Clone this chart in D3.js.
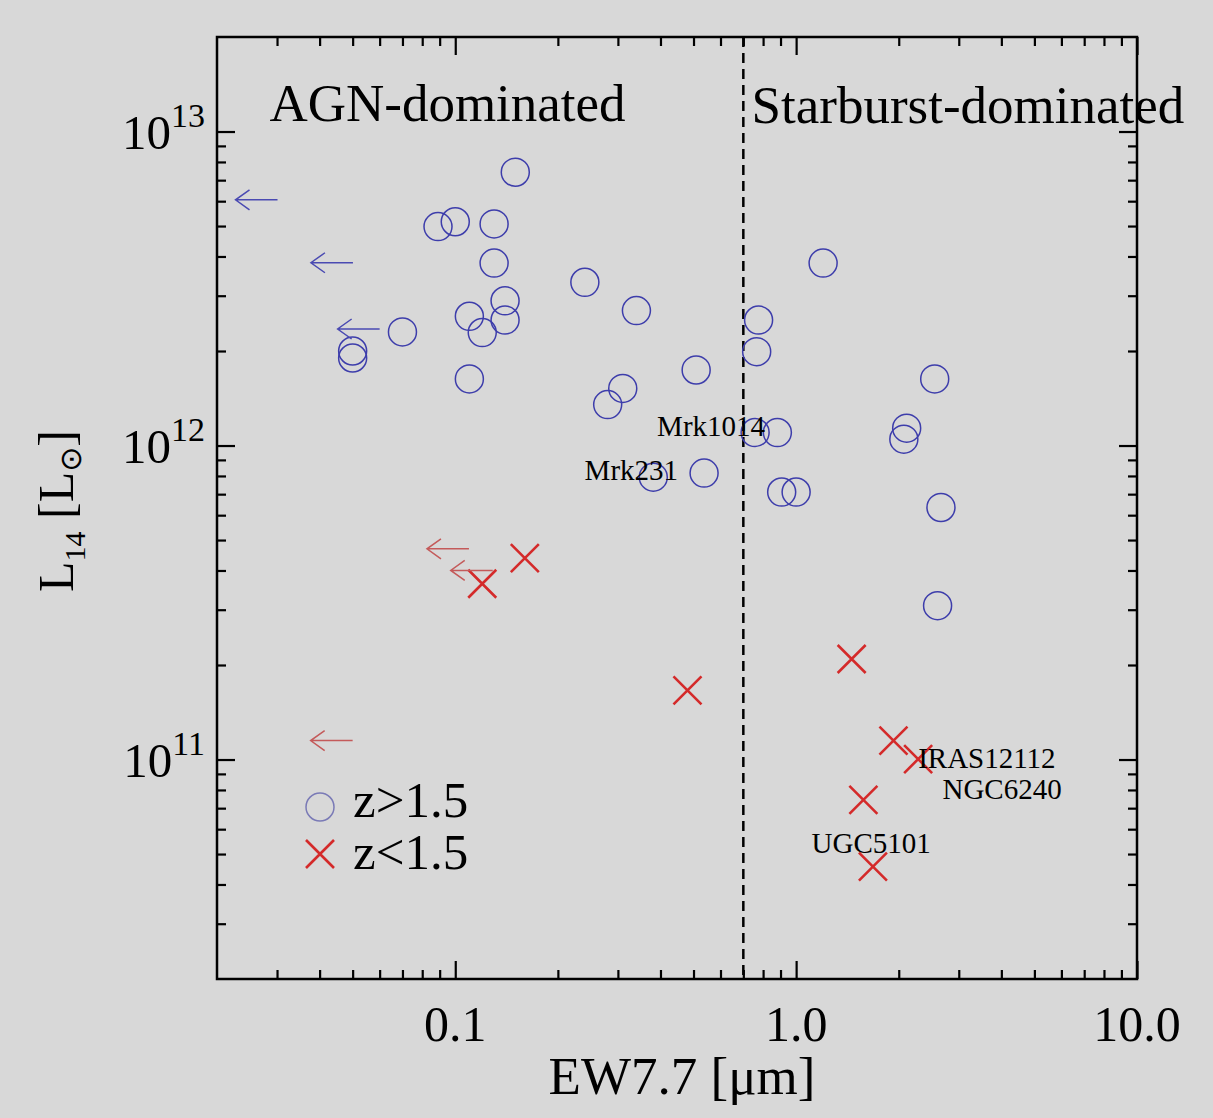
<!DOCTYPE html>
<html>
<head>
<meta charset="utf-8">
<script src="https://cdn.jsdelivr.net/npm/d3@7"></script>
<style>
  html, body { margin: 0; padding: 0; background: #d8d8d8; }
  svg { display: block; }
  text { font-family: "Liberation Serif", "Times New Roman", serif; fill: #000; }
</style>
</head>
<body>
<svg id="chart" width="1213" height="1118"></svg>
<script>
// High-redshift sources (z > 1.5): 7.7um PAH equivalent width and L14
const hiZ_ew = [0.150, 0.089, 0.100, 0.130, 0.130, 0.240, 0.140, 0.110, 0.140, 0.120,
                0.070, 0.050, 0.050, 0.110, 0.280, 0.310, 0.340, 1.20, 0.776, 0.766,
                0.509, 2.55, 0.758, 0.881, 2.11, 2.07, 0.537, 0.381, 0.907, 1.00,
                2.66, 2.60];
const hiZ_L  = [7.42e12, 4.98e12, 5.16e12, 5.08e12, 3.81e12, 3.31e12, 2.89e12, 2.58e12, 2.51e12, 2.29e12,
                2.30e12, 2.00e12, 1.90e12, 1.63e12, 1.35e12, 1.52e12, 2.69e12, 3.81e12, 2.51e12, 1.99e12,
                1.74e12, 1.63e12, 1.10e12, 1.10e12, 1.136e12, 1.048e12, 8.17e11, 7.93e11, 7.11e11, 7.11e11,
                6.35e11, 3.09e11];

// Low-redshift sources (z < 1.5)
const loZ_ew = [0.160, 0.120, 0.480, 1.455, 1.93, 2.28, 1.575, 1.68];
const loZ_L  = [4.38e11, 3.63e11, 1.66e11, 2.09e11, 1.149e11, 1.003e11, 7.44e10, 4.56e10];

// Upper limits on EW7.7 (drawn as left-pointing arrows)
const hiZ_limEW = [0.0301, 0.0501, 0.060];
const hiZ_limL  = [6.06e12, 3.82e12, 2.35e12];
const loZ_limEW = [0.1097, 0.1288, 0.050];
const loZ_limL  = [4.69e11, 4.0e11, 1.149e11];

// Named objects
const labelNames = ["Mrk1014", "Mrk231", "IRAS12112", "NGC6240", "UGC5101"];
const labelEW    = [0.391, 0.2396, 2.28, 2.687, 1.11];
const labelL     = [1.074e12, 7.78e11, 9.41e10, 7.49e10, 5.04e10];

// Dividing line between AGN- and starburst-dominated regimes
const ewDivide = 0.7;
const regionNames = ["AGN-dominated", "Starburst-dominated"];
const regionEW    = [0.0285, 0.74];

// Axis ticks
const xMajor = [0.1, 1, 10];
const xMajorLabels = ["0.1", "1.0", "10.0"];
const xMinor = [0.03,0.04,0.05,0.06,0.07,0.08,0.09, 0.2,0.3,0.4,0.5,0.6,0.7,0.8,0.9, 2,3,4,5,6,7,8,9];
const yMajor = [1e11, 1e12, 1e13];
const yMajorExp = ["11", "12", "13"];
const yMinor = [3e10,4e10,5e10,6e10,7e10,8e10,9e10,
                2e11,3e11,4e11,5e11,6e11,7e11,8e11,9e11,
                2e12,3e12,4e12,5e12,6e12,7e12,8e12,9e12];

const svg = d3.select("#chart");
const W = 1213, H = 1118;
const plot = { left: 217, right: 1137, top: 37, bottom: 979 };

svg.append("rect").attr("width", W).attr("height", H).attr("fill", "#d8d8d8");

const x = d3.scaleLog().domain([0.02, 10]).range([plot.left, plot.right]);
const y = d3.scaleLog().domain([2e10, 2e13]).range([plot.bottom, plot.top]);

const BLUE = "#3d3dab", RED = "#d42a2a", RED_LIGHT = "#c45a5a", BLUE_ARROW = "#4a4ab2";

// ---- axes: inward ticks on all four sides
function styleAxis(g) {
  g.select(".domain").remove();
  g.selectAll(".tick line").attr("stroke", "#000").attr("stroke-width", 2.2);
  g.selectAll(".tick text").remove();
}
const axes = [
  [d3.axisBottom(x), `translate(0,${plot.bottom})`, xMinor, xMajor],
  [d3.axisTop(x),    `translate(0,${plot.top})`,    xMinor, xMajor],
  [d3.axisLeft(y),   `translate(${plot.left},0)`,   yMinor, yMajor],
  [d3.axisRight(y),  `translate(${plot.right},0)`,  yMinor, yMajor]
];
axes.forEach(([ax, tr, minor, major]) => {
  svg.append("g").attr("transform", tr)
    .call(ax.tickValues(minor).tickSize(-9).tickFormat(""))
    .call(styleAxis);
  svg.append("g").attr("transform", tr)
    .call(ax.tickValues(major).tickSize(-18).tickFormat(""))
    .call(styleAxis);
});

// frame
svg.append("rect")
  .attr("x", plot.left).attr("y", plot.top)
  .attr("width", plot.right - plot.left).attr("height", plot.bottom - plot.top)
  .attr("fill", "none").attr("stroke", "#000").attr("stroke-width", 2.5);

// x tick labels
svg.append("g").selectAll("text").data(xMajor).join("text")
  .attr("x", d => x(d)).attr("y", plot.bottom + 62)
  .attr("text-anchor", "middle").attr("font-size", 50)
  .text((d, i) => xMajorLabels[i]);

// y tick labels: 10^n
const yl = svg.append("g").selectAll("text").data(yMajor).join("text")
  .attr("x", 205).attr("y", d => y(d) + 17)
  .attr("text-anchor", "end").attr("font-size", 49);
yl.append("tspan").text("10");
yl.append("tspan").attr("font-size", 34).attr("dy", -22).text((d, i) => yMajorExp[i]);

// axis titles
svg.append("text")
  .attr("x", 682).attr("y", 1094)
  .attr("text-anchor", "middle").attr("font-size", 53)
  .text("EW7.7 [μm]");

const yt = svg.append("text")
  .attr("transform", "translate(73,511) rotate(-90)")
  .attr("text-anchor", "middle").attr("font-size", 50);
yt.append("tspan").text("L");
yt.append("tspan").attr("font-size", 30).attr("dy", 12).text("14");
yt.append("tspan").attr("dy", -12).text(" [L");
yt.append("tspan").attr("font-size", 30).attr("dy", 8)
  .style("font-family", "'DejaVu Sans', sans-serif").text("⊙");
yt.append("tspan").attr("dy", -8).text("]");

// dashed divider
svg.append("line")
  .attr("x1", x(ewDivide)).attr("x2", x(ewDivide))
  .attr("y1", plot.top).attr("y2", plot.bottom)
  .attr("stroke", "#000").attr("stroke-width", 2.5)
  .attr("stroke-dasharray", "10,6");

// region labels
svg.append("g").selectAll("text").data(regionNames).join("text")
  .attr("x", (d, i) => x(regionEW[i])).attr("y", (d, i) => i === 0 ? 121 : 123)
  .attr("font-size", 53)
  .text(d => d);

// ---- marks
const R = 14, XS = 14, ARROW_LEN = 42;

svg.append("g").selectAll("circle").data(hiZ_ew).join("circle")
  .attr("cx", d => x(d)).attr("cy", (d, i) => y(hiZ_L[i]))
  .attr("r", R).attr("fill", "none")
  .attr("stroke", BLUE).attr("stroke-width", 1.5);

function crossPath(cx, cy, s) {
  return `M${cx - s},${cy - s}L${cx + s},${cy + s}M${cx - s},${cy + s}L${cx + s},${cy - s}`;
}
svg.append("g").selectAll("path").data(loZ_ew).join("path")
  .attr("d", (d, i) => crossPath(x(d), y(loZ_L[i]), XS))
  .attr("fill", "none").attr("stroke", RED).attr("stroke-width", 2.6);

function arrowPath(xr, cy) {
  const xl = xr - ARROW_LEN;
  return `M${xr},${cy}L${xl},${cy}M${xl + 14},${cy - 10}L${xl},${cy}L${xl + 14},${cy + 10}`;
}
svg.append("g").selectAll("path").data(hiZ_limEW).join("path")
  .attr("d", (d, i) => arrowPath(x(d), y(hiZ_limL[i])))
  .attr("fill", "none").attr("stroke", BLUE_ARROW).attr("stroke-width", 1.5);
svg.append("g").selectAll("path").data(loZ_limEW).join("path")
  .attr("d", (d, i) => arrowPath(x(d), y(loZ_limL[i])))
  .attr("fill", "none").attr("stroke", RED_LIGHT).attr("stroke-width", 1.5);

// object names
svg.append("g").selectAll("text").data(labelNames).join("text")
  .attr("x", (d, i) => x(labelEW[i])).attr("y", (d, i) => y(labelL[i]))
  .attr("font-size", 29)
  .text(d => d);

// ---- legend
const leg = svg.append("g");
leg.append("circle").attr("cx", 320).attr("cy", 807).attr("r", R)
  .attr("fill", "none").attr("stroke", "#7a7ab6").attr("stroke-width", 1.5);
leg.append("path").attr("d", crossPath(320, 854, XS))
  .attr("fill", "none").attr("stroke", RED).attr("stroke-width", 2.6);
leg.append("text").attr("x", 353).attr("y", 817).attr("font-size", 51).text("z>1.5");
leg.append("text").attr("x", 353).attr("y", 869).attr("font-size", 51).text("z<1.5");
</script>
</body>
</html>
